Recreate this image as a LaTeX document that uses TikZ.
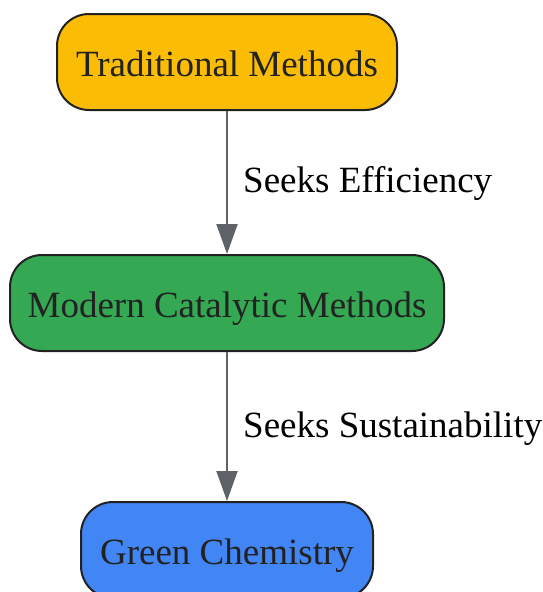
\documentclass[tikz,border=0pt]{standalone}
\usepackage{fontspec}
\setmainfont{Liberation Serif}
\usetikzlibrary{arrows.meta}
\definecolor{cyellow}{HTML}{FBBC05}
\definecolor{cgreen}{HTML}{34A853}
\definecolor{cblue}{HTML}{4285F4}
\definecolor{cedge}{HTML}{5F6368}
\definecolor{cborder}{HTML}{222222}
\begin{document}
\begin{tikzpicture}[x=1pt,y=1pt,
  box/.style={draw=cborder, line width=2pt, rounded corners=32pt, minimum height=96pt,
    inner sep=0pt, text=cborder, font=\fontsize{37}{44}\selectfont, text height=29pt, text depth=0pt},
  conn/.style={draw=cedge, line width=2pt, -{Triangle[length=30pt,width=21pt]}},
  lab/.style={anchor=west, inner sep=0pt, font=\fontsize{37}{44}\selectfont}]
\useasboundingbox (0,0) rectangle (543,-592);
\node[box, fill=cyellow, minimum width=340pt] (trad) at (227,-62) {Traditional Methods};
\node[box, fill=cgreen, minimum width=434pt] (mod) at (227,-303) {Modern Catalytic Methods};
\node[box, fill=cblue, minimum width=292pt] (green) at (227,-550) {Green Chemistry};
\draw[conn] (trad) -- (mod);
\draw[conn] (mod) -- (green);
\node[lab] (l1) at (243,-183) {Seeks Efficiency};
\node[lab] (l2) at (243,-429) {Seeks Sustainability};
\end{tikzpicture}
\end{document}
